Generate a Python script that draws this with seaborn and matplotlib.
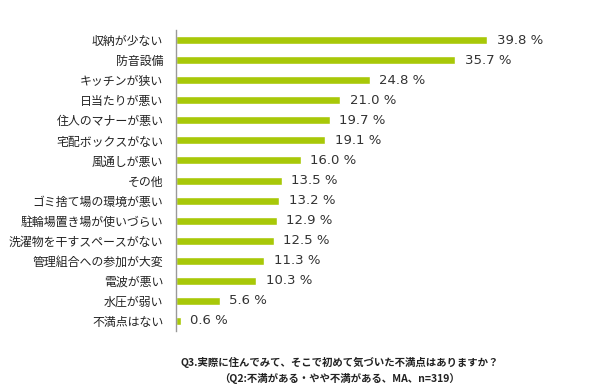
import matplotlib
matplotlib.use("Agg")
import matplotlib.pyplot as plt
import seaborn as sns
import pandas as pd

categories = ["収納が少ない", "防音設備", "キッチンが狭い", "日当たりが悪い", "住人のマナーが悪い",
              "宅配ボックスがない", "風通しが悪い", "その他", "ゴミ捨て場の環境が悪い",
              "駐輪場置き場が使いづらい", "洗濯物を干すスペースがない", "管理組合への参加が大変",
              "電波が悪い", "水圧が弱い", "不満点はない"]
values = [39.8, 35.7, 24.8, 21.0, 19.7, 19.1, 16.0, 13.5, 13.2, 12.9, 12.5, 11.3, 10.3, 5.6, 0.6]
title_lines = ["Q3.実際に住んでみて、そこで初めて気づいた不満点はありますか？",
               "（Q2:不満がある・やや不満がある、MA、n=319）"]

sns.set_theme(style="white")
plt.rcParams['font.family'] = ['Noto Sans CJK JP', 'DejaVu Sans']

df = pd.DataFrame({"cat": categories, "val": values})

fig = plt.figure(figsize=(5.9, 3.91), dpi=100)
ax = fig.add_axes([0.298, 0.1535, 0.69, 0.7695])
sns.barplot(data=df, y="cat", x="val", color="#A8C808", width=0.4, ax=ax, saturation=1)
ax.set_xlim(0, 52)
ax.set_ylim(14.5, -0.5)
ax.set_xlabel("")
ax.set_ylabel("")
ax.set_xticks([])
for s in ["top", "right", "bottom"]:
    ax.spines[s].set_visible(False)
ax.spines["left"].set_color("#999999")
ax.spines["left"].set_linewidth(1.0)
ax.tick_params(axis="y", length=0, pad=9, labelsize=8.6, labelcolor="#222222")

for i, v in enumerate(values):
    ax.text(v + 1.2, i, f"{v:.1f} %", va="center", ha="left", fontsize=9.5,
            color="#333333", family=["DejaVu Sans"])

fig.text(0.575, 0.072, title_lines[0], ha="center", va="center", fontsize=7.5, fontweight="bold", color="#222222")
fig.text(0.575, 0.033, title_lines[1], ha="center", va="center", fontsize=7.5, fontweight="bold", color="#222222")

fig.savefig("out.png", dpi=100)
